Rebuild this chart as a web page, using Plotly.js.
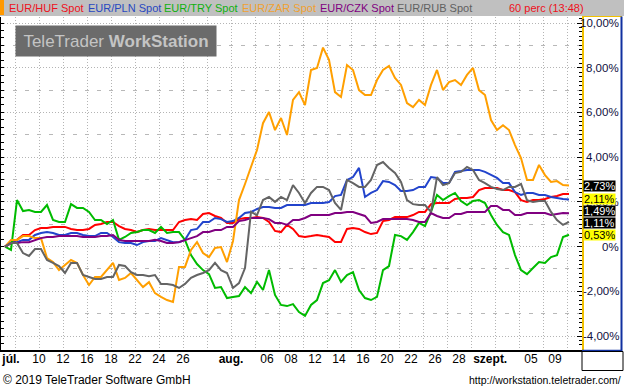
<!DOCTYPE html>
<html><head><meta charset="utf-8">
<script src="https://cdn.plot.ly/plotly-3.0.1.min.js"></script>
<style>html,body{margin:0;padding:0;background:#fff;}#chart{width:624px;height:388px;}</style>
</head><body><div id="chart"></div>
<script>
// Percent change series, sampled every half trading day (index 0 = start of window)
const HUF = [0,0.15,0.3,0.52,0.52,0.74,0.83,0.83,0.88,0.88,
 0.88,0.79,0.74,0.74,0.79,0.97,1.01,1.1,1.1,0.92,
 0.79,0.74,0.65,0.74,0.79,0.74,0.74,0.74,0.74,1.1,
 1.19,1.23,1.19,1.46,1.5,1.37,1.28,1.06,1.06,1.23,
 1.28,1.28,1.32,1.28,1.1,0.7,0.65,0.97,0.79,0.47,
 0.43,0.47,0.52,0.47,0.43,0.21,0.21,0.79,0.83,0.79,
 0.65,0.56,0.61,1.14,1.19,1.32,1.32,1.32,1.41,1.55,
 1.55,1.9,1.95,1.95,1.95,2.13,2.17,2.17,2.22,2.53,
 2.62,2.62,2.62,2.53,2.53,2.44,2.08,2.0,2.08,2.08,
 2.13,2.22,2.26,2.35,2.35];
const PLN = [0,0.2,0.2,0.3,0.3,0.52,0.61,0.65,0.61,0.52,
 0.52,0.61,0.61,0.52,0.47,0.47,0.61,0.61,0.43,0.2,
 0.16,0.16,0.07,0.2,0.25,0.25,0.38,0.3,0.2,0.2,
 0.3,0.74,0.79,1.1,1.1,1.28,1.23,1.1,1.14,1.28,
 1.5,1.55,1.68,1.77,1.77,1.73,1.73,1.86,1.86,1.86,
 1.86,1.95,1.95,1.95,1.99,2.26,2.31,2.98,3.11,3.52,
 2.22,2.4,2.53,2.93,2.89,2.75,2.49,2.49,2.53,2.67,
 2.67,3.11,3.07,2.84,2.84,3.34,3.38,3.43,3.43,3.43,
 3.34,3.2,3.07,2.84,2.84,2.44,2.31,2.4,2.4,2.31,
 2.31,2.22,2.17,2.13,2.11];
const TRY = [0,-0.15,2.08,1.59,1.64,1.55,1.55,1.86,1.19,1.1,
 1.1,1.9,1.73,1.73,1.55,1.19,1.19,1.01,1.19,0.3,
 0.43,0.61,0.65,0.74,0.74,0.61,0.88,0.61,0.65,0.65,
 0.3,-0.38,-0.78,-1.05,-1.23,-1.85,-1.81,-2.3,-2.25,-2.21,
 -1.81,-2.08,-1.58,-1.94,-1.05,-2.16,-2.61,-2.66,-2.57,-2.93,
 -3.1,-2.61,-2.39,-1.63,-1.5,-1.05,-1.58,-1.27,-1.14,-1.94,
 -2.3,-2.39,-2.25,-1.05,-0.87,0.52,0.47,0.3,0.65,1.06,
 0.92,1.55,2.31,2.08,2.26,2.4,2.04,1.86,2.04,2.08,
 1.95,1.41,0.97,0.65,0.52,-0.38,-1.05,-1.23,-0.96,-0.69,
 -0.73,-0.47,-0.38,0.43,0.53];
const ZAR = [0,0.3,0.3,0.47,0.47,0.38,0.38,-0.51,-0.69,-1.05,
 -0.82,-0.6,-0.73,-1.27,-1.72,-1.36,-1.36,-1.05,-0.73,-1.49,
 -1.4,-1.18,-1.49,-1.81,-1.59,-2.08,-2.25,-2.39,-2.48,-0.91,
 -0.91,-0.15,0.2,-0.29,-0.47,-0.06,-0.02,-0.69,0.25,2.08,
 2.8,3.56,4.32,5.52,6.02,5.21,5.75,4.99,6.56,6.91,
 6.33,7.9,7.99,8.9,8.35,6.91,6.69,8.12,7.9,7.0,
 6.78,6.78,7.45,7.9,8.08,7.54,7.23,6.42,6.24,6.56,
 6.33,7.23,7.9,7.0,7.36,7.45,7.23,7.68,7.99,7.0,
 6.78,5.66,5.21,5.43,5.21,4.54,3.96,2.98,2.98,3.65,
 3.2,2.89,2.93,2.75,2.73];
const CZK = [0,0.16,0.16,0.2,0.2,0.3,0.38,0.43,0.43,0.47,
 0.47,0.47,0.47,0.43,0.43,0.43,0.47,0.47,0.52,0.3,
 0.25,0.25,0.25,0.25,0.25,0.3,0.25,0.16,0.16,0.2,
 0.3,0.38,0.47,0.65,0.65,0.74,0.74,0.88,0.88,1.14,
 1.19,1.28,1.28,1.28,1.23,1.06,1.06,0.97,1.19,1.19,
 1.28,1.41,1.41,1.41,1.41,1.5,1.5,1.55,1.55,1.46,
 1.37,1.06,1.1,1.23,1.23,1.23,1.23,1.23,1.19,1.1,
 1.1,1.5,1.37,1.28,1.28,1.46,1.46,1.55,1.55,1.55,
 1.55,1.82,1.82,1.64,1.64,1.41,1.41,1.5,1.5,1.5,
 1.5,1.41,1.46,1.5,1.49];
const RUB = [0,0.16,0.16,-0.29,-0.42,-0.11,-0.11,-0.6,-0.73,-0.87,
 -1.18,-0.73,-0.73,-1.27,-1.36,-1.45,-1.45,-1.36,-1.36,-0.82,
 -0.87,-1.14,-1.27,-1.27,-1.32,-1.27,-1.67,-1.67,-1.72,-1.85,
 -1.67,-1.4,-1.27,-1.18,-1.05,-0.73,-1.05,-1.18,-1.85,-1.63,
 -0.96,1.55,1.41,2.08,2.22,2.0,2.22,2.08,2.75,2.4,
 1.95,2.4,2.67,2.67,2.53,1.95,1.64,2.98,2.84,2.67,
 2.67,2.98,3.65,3.78,3.52,3.29,2.89,2.08,1.9,1.86,
 1.86,1.55,3.11,2.75,2.84,3.29,3.34,3.56,3.43,2.98,
 2.84,2.67,2.58,2.53,2.67,2.67,2.8,2.08,2.0,2.04,
 2.04,1.55,1.19,0.97,1.11];

const seriesNames = ['EUR/HUF Spot','EUR/PLN Spot','EUR/TRY Spot','EUR/ZAR Spot','EUR/CZK Spot','EUR/RUB Spot'];
const seriesData = [HUF, PLN, TRY, ZAR, CZK, RUB];
const xTickVals = [-2.33,0,2,4,6,8,10,12,16,19,21,23,25,27,29,31,33,35,37.6,41,43];
const xTickText = ['<b>júl.</b>','10','12','16','18','22','24','26','<b>aug.</b>','06','08','12','14','16','20','22','26','28','<b>szept.</b>','05','09'];
const yTickVals = [10,8,6,4,2,0,-2,-4];
const yTickText = ['10,00%','8,00%','6,00%','4,00%','2,00%','0%','-2,00%','-4,00%'];

// styles
const colors = ['#ff0000','#2244cc','#00bb00','#ff9f00','#800080','#646464'];
const legendColors = ['#ee1020','#2848c0','#10b010','#f0a030','#800080','#606060'];
const legendPx = [7,86,162,240,318,395];
const boxBg = ['#000000','#ffff00','#ffff00','#000000','#000000','#000000'];
const boxFg = ['#ffffff','#000000','#000000','#ffffff','#ffffff','#ffffff'];
const boxShift = [0,0,0,0,2,-1];
const labelOrder = [3,1,4,5,2];

const T0 = -2.8333, STEP = 0.5;
const tx = HUF.map((_, i) => T0 + STEP * i);

const PL = 1, PR = 582, PT = 17, PB = 350;
const px2x = p => (p - PL) / (PR - PL);
const py2y = p => (PB - p) / (PB - PT);
const YR = [(246.6 - PB) / 22.36, (246.6 - PT) / 22.36];
const XR = [(PL - 39) / 12, (PR - 39) / 12];
const FONT = 'Liberation Sans, Arial, sans-serif';

const traces = seriesData.map((d, k) => ({
  x: tx, y: d, type: 'scatter', mode: 'lines', name: seriesNames[k],
  line: {color: colors[k], width: 2}, hoverinfo: 'skip', showlegend: false
}));
traces.push({x: [tx[0]], y: [HUF[0]], xaxis: 'x2', yaxis: 'y2', mode: 'markers',
  marker: {opacity: 0}, hoverinfo: 'skip', showlegend: false});

const ann = [];
// legend strip text
seriesNames.forEach((n, k) => ann.push({text: n, xref: 'paper', yref: 'paper', x: px2x(legendPx[k]), y: py2y(8),
  xanchor: 'left', yanchor: 'middle', showarrow: false, font: {family: FONT, size: 11, color: legendColors[k]}}));
ann.push({text: '60 perc (13:48)', xref: 'paper', yref: 'paper', x: px2x(507), y: py2y(8),
  xanchor: 'left', yanchor: 'middle', showarrow: false, font: {family: FONT, size: 11, color: '#ee1020'}});
// watermark
ann.push({text: 'TeleTrader <b>WorkStation</b>', xref: 'paper', yref: 'paper', x: px2x(15), y: py2y(25),
  xanchor: 'left', yanchor: 'top', showarrow: false, width: 200, height: 30, borderpad: 0, bgcolor: '#6b6b6b',
  font: {family: FONT, size: 17, color: '#c4c4c4'}});
// y tick labels (right aligned)
yTickVals.forEach((v, k) => ann.push({text: yTickText[k], xref: 'paper', yref: 'y', x: px2x(621), y: v,
  xanchor: 'right', yanchor: 'middle', showarrow: false, font: {family: FONT, size: 11.5, color: '#101040'}}));
// last value boxes
labelOrder.forEach(k => {
  const d = seriesData[k], v = d[d.length - 1];
  ann.push({text: v.toFixed(2).replace('.', ',') + '%', xref: 'paper', yref: 'y', x: px2x(583), y: v, yshift: boxShift[k],
    xanchor: 'left', yanchor: 'middle', showarrow: false, bgcolor: boxBg[k], borderpad: 0, height: 10,
    font: {family: FONT, size: 11, color: boxFg[k]}});
});
// footer
ann.push({text: '© 2019 TeleTrader Software GmbH', xref: 'paper', yref: 'paper', x: px2x(1), y: py2y(380),
  xanchor: 'left', yanchor: 'middle', showarrow: false, font: {family: FONT, size: 12, color: '#000'}});
ann.push({text: 'http://workstation.teletrader.com/', xref: 'paper', yref: 'paper', x: px2x(623), y: py2y(380),
  xanchor: 'right', yanchor: 'middle', showarrow: false, font: {family: FONT, size: 10.5, color: '#000'}});

const shapes = [
  {type: 'rect', xref: 'paper', yref: 'paper', x0: px2x(0), x1: px2x(624), y0: py2y(16), y1: py2y(0), fillcolor: '#c0c0c0', line: {width: 0}, layer: 'below'},
  {type: 'rect', xref: 'paper', yref: 'paper', x0: px2x(0), x1: px2x(4), y0: py2y(15), y1: py2y(0), fillcolor: '#ff9900', line: {width: 0}},
  {type: 'line', xref: 'paper', yref: 'paper', x0: px2x(582), x1: px2x(622), y0: py2y(16.5), y1: py2y(16.5), line: {color: '#f0c000', width: 1}},
  {type: 'line', xref: 'paper', yref: 'paper', x0: px2x(621.5), x1: px2x(621.5), y0: py2y(16.5), y1: py2y(351), line: {color: '#1030a0', width: 2}},
  {type: 'line', xref: 'paper', yref: 'paper', x0: px2x(582), x1: px2x(622), y0: py2y(350.5), y1: py2y(350.5), line: {color: '#1030a0', width: 1.5}},
  {type: 'rect', xref: 'paper', yref: 'paper', x0: px2x(582), x1: px2x(623), y0: py2y(370.5), y1: py2y(351.5), line: {color: '#000', width: 1}}
];

const layout = {
  width: 624, height: 388, margin: {l: PL, r: 624 - PR, t: PT, b: 388 - PB},
  paper_bgcolor: '#fff', plot_bgcolor: '#fff', showlegend: false,
  xaxis: {range: XR, tick0: 0, dtick: 2, showgrid: true, griddash: '1px,2px', gridcolor: '#b4b4b4', gridwidth: 1,
    showticklabels: false, ticks: '', showline: true, linecolor: '#000', linewidth: 2, zeroline: false, fixedrange: true},
  xaxis2: {range: XR, overlaying: 'x', anchor: 'y2', side: 'bottom', tickvals: xTickVals, ticktext: xTickText,
    showgrid: false, showline: false, ticks: '', zeroline: false, tickfont: {family: FONT, size: 12, color: '#000'}, fixedrange: true},
  yaxis: {range: YR, side: 'right', tick0: 0, dtick: 2, showgrid: true, griddash: '1px,2px', gridcolor: '#b4b4b4',
    showticklabels: false, ticks: 'inside', ticklen: 5, tickcolor: '#000', showline: true, linecolor: '#f0c000', linewidth: 1.5,
    zeroline: false, minor: {dtick: 0.2, ticks: 'inside', ticklen: 3, tickcolor: '#000', showgrid: false}, fixedrange: true},
  yaxis2: {range: YR, overlaying: 'y', side: 'left', anchor: 'x2', tick0: 1, dtick: 2, showgrid: true, griddash: '4px,8px', gridcolor: '#b8b8b8',
    showticklabels: false, ticks: 'inside', ticklen: 3, tickcolor: '#000', showline: true, linecolor: '#000', linewidth: 1,
    zeroline: false, minor: {dtick: 1/3, ticks: 'inside', ticklen: 3, tickcolor: '#000', showgrid: false}, fixedrange: true},
  annotations: ann, shapes: shapes
};
Plotly.newPlot('chart', traces, layout, {displayModeBar: false, staticPlot: true});
</script></body></html>
